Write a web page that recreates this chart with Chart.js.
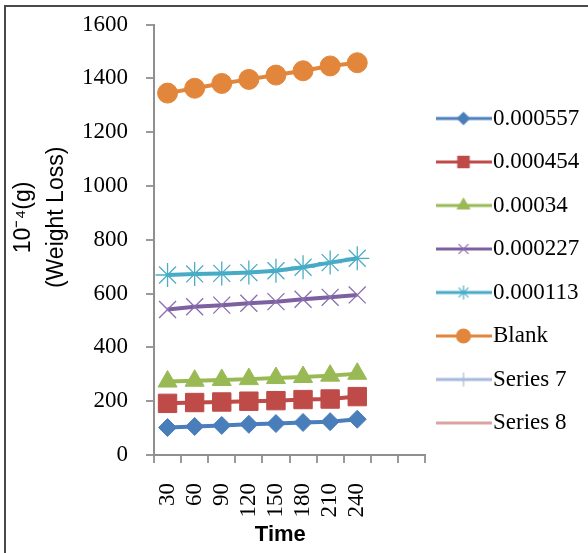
<!DOCTYPE html>
<html><head><meta charset="utf-8">
<script src="https://cdn.jsdelivr.net/npm/chart.js@4.4.0/dist/chart.umd.min.js"></script>
<style>
html,body{margin:0;padding:0;background:#fff;overflow:hidden}
#wrap{position:relative;width:588px;height:553px}
#frame{position:absolute;left:4px;top:5px;width:700px;height:700px;border-left:2px solid #4a4a4a;border-top:2px solid #4a4a4a;pointer-events:none}
</style></head>
<body><div id="wrap"><canvas id="c" width="588" height="553"></canvas><div id="frame"></div></div>
<script>
const categories = ['30','60','90','120','150','180','210','240','',''];
const seriesNames = ['0.000557','0.000454','0.00034','0.000227','0.000113','Blank','Series 7','Series 8'];
const s0557 = [102,106,110,114,117,121,124,133];
const s0454 = [192,195,197,200,202,206,208,217];
const s034  = [273,276,279,282,286,290,295,302];
const s0227 = [541,551,557,564,570,579,586,595];
const s0113 = [669,673,675,678,685,698,715,731];
const blank = [1345,1363,1381,1396,1412,1428,1446,1458];
const series7 = [];
const series8 = [];
const yTicks = [0,200,400,600,800,1000,1200,1400,1600];

const values = [s0557,s0454,s034,s0227,s0113,blank,series7,series8];
const colors = ['#4a7ebb','#be4b48','#98b954','#7d60a0','#46aac5','#e2863b','#a5b9da','#dba3a2'];
const markerColors = ['#4a7ebb','#be4b48','#98b954','#8a6fb0','#4bacc6','#e2863b','#a5b9da','#dba3a2'];
const styles = ['rectRot','rect','triangle','crossRot','star','circle','cross',false];
const radii = [9,13,11,12,12,10,0,0];
const legendRadii = [6,8,7,7,7,7,7,0];

function legendIcon(i){
  const c=document.createElement('canvas'); c.width=56; c.height=24;
  const g=c.getContext('2d');
  g.strokeStyle=colors[i]; g.lineWidth=3;
  g.beginPath(); g.moveTo(0,12); g.lineTo(56,12); g.stroke();
  if(styles[i]){
    g.fillStyle=markerColors[i]; g.strokeStyle=markerColors[i]; g.lineWidth=1.2;
    Chart.helpers.drawPoint(g,{pointStyle:styles[i],radius:legendRadii[i],borderWidth:1.2,rotation:0},28,12);
  }
  return c;
}

const datasets = seriesNames.map((name,i)=>({
  label:name,
  data:values[i],
  borderColor:colors[i],
  backgroundColor:markerColors[i],
  borderWidth:4,
  tension:0,
  pointStyle:styles[i]||'circle',
  pointRadius:radii[i],
  pointHoverRadius:radii[i],
  pointBackgroundColor:markerColors[i],
  pointBorderColor:markerColors[i],
  pointBorderWidth:(styles[i]==='crossRot'||styles[i]==='star')?1.3:1
}));

// let the legend box reach the right edge of the canvas so its labels are not clipped
const legendRightEdge = {
  id:'legendRightEdge',
  afterLayout(chart){
    const l = chart.legend;
    if(l){ l.right = chart.width; l.width = l.right - l.left; }
  }
};

new Chart(document.getElementById('c'),{
  type:'line',
  data:{labels:categories,datasets},
  plugins:[legendRightEdge],
  options:{
    responsive:false,
    animation:false,
    layout:{padding:{left:18.5,top:24.5,right:27.5,bottom:4.8}},
    plugins:{
      tooltip:{enabled:false},
      legend:{
        position:'right',
        align:'end',
        fullSize:false,
        labels:{
          usePointStyle:true,
          pointStyleWidth:36,
          padding:20.5,
          color:'#000',
          font:{family:'Liberation Serif',size:23},
          generateLabels(chart){
            return chart.data.datasets.map((ds,i)=>({
              text:ds.label, fillStyle:colors[i], strokeStyle:colors[i], lineWidth:0,
              pointStyle:legendIcon(i), hidden:false, datasetIndex:i, fontColor:'#000'
            }));
          }
        }
      }
    },
    scales:{
      x:{
        type:'category',
        offset:true,
        grid:{offset:true,drawOnChartArea:false,drawTicks:true,tickLength:8,color:'#9a9a9a',lineWidth:2},
        border:{color:'#8f8f8f',width:2},
        ticks:{autoSkip:false,minRotation:90,maxRotation:90,padding:20,color:'#000',font:{family:'Liberation Serif',size:23}},
        title:{display:true,text:'Time   ',color:'#000',font:{family:'Liberation Sans',size:22,weight:'bold'},padding:{top:-15.7,bottom:0}}
      },
      y:{
        min:0,max:1600,
        afterBuildTicks(scale){ scale.ticks = yTicks.map(v=>({value:v})); },
        grid:{drawOnChartArea:false,drawTicks:true,tickLength:8,color:'#9a9a9a',lineWidth:2},
        border:{color:'#8f8f8f',width:2},
        ticks:{padding:18,color:'#000',font:{family:'Liberation Serif',size:23,lineHeight:0.5},callback:v=>String(v)},
        title:{display:true,text:['       10\u207B\u2074(g)','       (Weight Loss)'],color:'#000',
          font:{family:'Liberation Sans',size:23,lineHeight:1.4},padding:{top:-10.6,bottom:0}}
      }
    }
  }
});
</script>
</body></html>
